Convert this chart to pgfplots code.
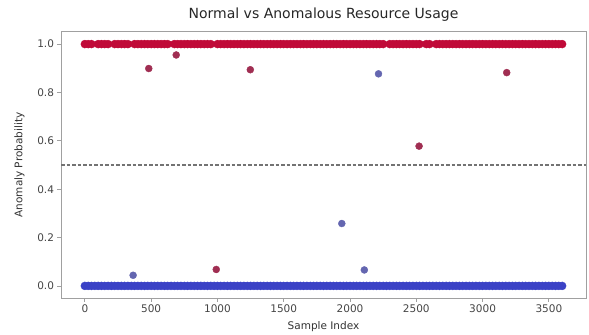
\documentclass[border=0pt]{standalone}
\usepackage{pgfplots}
\pgfplotsset{compat=1.18}
\usepackage{fontspec}
\setmainfont{DejaVu Sans}
\definecolor{cwred}{HTML}{C00A38}
\definecolor{cwblue}{HTML}{3B42C6}
\definecolor{outred}{HTML}{A02E52}
\definecolor{outblue}{HTML}{6466B0}
\definecolor{spine}{HTML}{A0A0A0}
\definecolor{ticktext}{HTML}{444444}
\begin{document}
\begin{tikzpicture}
\begin{axis}[
  at={(0,0)}, anchor=south west,
  scale only axis, width=525bp, height=266bp,
  xmin=-180, xmax=3780, ymin=-0.05, ymax=1.05,
  xtick={0,500,1000,1500,2000,2500,3000,3500},
  ytick={0,0.2,0.4,0.6,0.8,1.0},
  yticklabel style={/pgf/number format/fixed,/pgf/number format/fixed zerofill,/pgf/number format/precision=1},
  /pgf/number format/assume math mode=true,
  scaled x ticks=false,
  xticklabel style={/pgf/number format/set thousands separator={}},
  tick align=outside, tick pos=left,
  major tick length=3.5bp,
  every tick/.style={spine, line width=0.8bp},
  axis line style={spine, line width=1bp},
  ticklabel style={font=\fontsize{10.5bp}{12bp}\selectfont, text=ticktext},
  title={Normal vs Anomalous Resource Usage},
  title style={font=\fontsize{14bp}{16bp}\selectfont, text=black!85, yshift=1bp},
  xlabel={Sample Index},
  ylabel={Anomaly Probability},
  label style={font=\fontsize{10.5bp}{12bp}\selectfont, text=black!80},
  xlabel style={yshift=-2bp},
  ylabel style={yshift=6bp},
  clip=false,
]
\addplot[color=black!55, line width=1.5bp, dash pattern=on 3.5bp off 2bp] coordinates {(-180,0.5) (3780,0.5)};
% blue row (normal samples)
\addplot[only marks, mark=*, mark size=4bp, color=cwblue, fill=cwblue] coordinates {
(0,0)(25,0)(50,0)(75,0)(100,0)(125,0)(150,0)(175,0)(200,0)(225,0)(250,0)(275,0)(300,0)(325,0)(350,0)(375,0)(400,0)(425,0)(450,0)(475,0)
(500,0)(525,0)(550,0)(575,0)(600,0)(625,0)(650,0)(675,0)(700,0)(725,0)(750,0)(775,0)(800,0)(825,0)(850,0)(875,0)(900,0)(925,0)(950,0)(975,0)
(1000,0)(1025,0)(1050,0)(1075,0)(1100,0)(1125,0)(1150,0)(1175,0)(1200,0)(1225,0)(1250,0)(1275,0)(1300,0)(1325,0)(1350,0)(1375,0)(1400,0)(1425,0)(1450,0)(1475,0)
(1500,0)(1525,0)(1550,0)(1575,0)(1600,0)(1625,0)(1650,0)(1675,0)(1700,0)(1725,0)(1750,0)(1775,0)(1800,0)(1825,0)(1850,0)(1875,0)(1900,0)(1925,0)(1950,0)(1975,0)
(2000,0)(2025,0)(2050,0)(2075,0)(2100,0)(2125,0)(2150,0)(2175,0)(2200,0)(2225,0)(2250,0)(2275,0)(2300,0)(2325,0)(2350,0)(2375,0)(2400,0)(2425,0)(2450,0)(2475,0)
(2500,0)(2525,0)(2550,0)(2575,0)(2600,0)(2625,0)(2650,0)(2675,0)(2700,0)(2725,0)(2750,0)(2775,0)(2800,0)(2825,0)(2850,0)(2875,0)(2900,0)(2925,0)(2950,0)(2975,0)
(3000,0)(3025,0)(3050,0)(3075,0)(3100,0)(3125,0)(3150,0)(3175,0)(3200,0)(3225,0)(3250,0)(3275,0)(3300,0)(3325,0)(3350,0)(3375,0)(3400,0)(3425,0)(3450,0)(3475,0)
(3500,0)(3525,0)(3550,0)(3575,0)(3600,0)
};
% red row (anomalous samples)
\addplot[only marks, mark=*, mark size=4bp, color=cwred, fill=cwred] coordinates {
(0,1)(25,1)(50,1)(100,1)(125,1)(150,1)(175,1)(225,1)(250,1)(275,1)(300,1)(325,1)(375,1)(400,1)(425,1)(450,1)(475,1)
(500,1)(525,1)(550,1)(575,1)(600,1)(625,1)(675,1)(700,1)(725,1)(750,1)(775,1)(800,1)(825,1)(850,1)(875,1)(900,1)(925,1)(950,1)
(1000,1)(1025,1)(1050,1)(1075,1)(1100,1)(1125,1)(1150,1)(1175,1)(1200,1)(1225,1)(1250,1)(1275,1)(1300,1)(1325,1)(1350,1)(1375,1)(1400,1)(1425,1)(1450,1)(1475,1)
(1500,1)(1525,1)(1550,1)(1575,1)(1600,1)(1625,1)(1650,1)(1675,1)(1700,1)(1725,1)(1750,1)(1775,1)(1800,1)(1825,1)(1850,1)(1875,1)(1900,1)(1925,1)(1950,1)(1975,1)
(2000,1)(2025,1)(2050,1)(2075,1)(2100,1)(2125,1)(2150,1)(2175,1)(2200,1)(2225,1)(2250,1)(2300,1)(2325,1)(2350,1)(2375,1)(2400,1)(2425,1)(2450,1)(2475,1)
(2500,1)(2525,1)(2575,1)(2600,1)(2650,1)(2675,1)(2700,1)(2725,1)(2750,1)(2775,1)(2800,1)(2825,1)(2850,1)(2875,1)(2900,1)(2925,1)(2950,1)(2975,1)
(3000,1)(3025,1)(3050,1)(3075,1)(3100,1)(3125,1)(3150,1)(3175,1)(3200,1)(3225,1)(3250,1)(3275,1)(3300,1)(3325,1)(3350,1)(3375,1)(3400,1)(3425,1)(3450,1)(3475,1)
(3500,1)(3525,1)(3550,1)(3575,1)(3600,1)
};
% anomalous outliers
\addplot[only marks, mark=*, mark size=3.5bp, color=outred, fill=outred] coordinates {
(482,0.899)(689,0.955)(1248,0.894)(2521,0.578)(3182,0.882)(991,0.068)
};
% normal outliers
\addplot[only marks, mark=*, mark size=3.5bp, color=outblue, fill=outblue] coordinates {
(364,0.044)(1938,0.258)(2108,0.066)(2215,0.877)
};
\end{axis}
\pgfresetboundingbox
\path[use as bounding box] (-61bp,-37bp) rectangle (528bp,298bp);
\end{tikzpicture}
\end{document}
